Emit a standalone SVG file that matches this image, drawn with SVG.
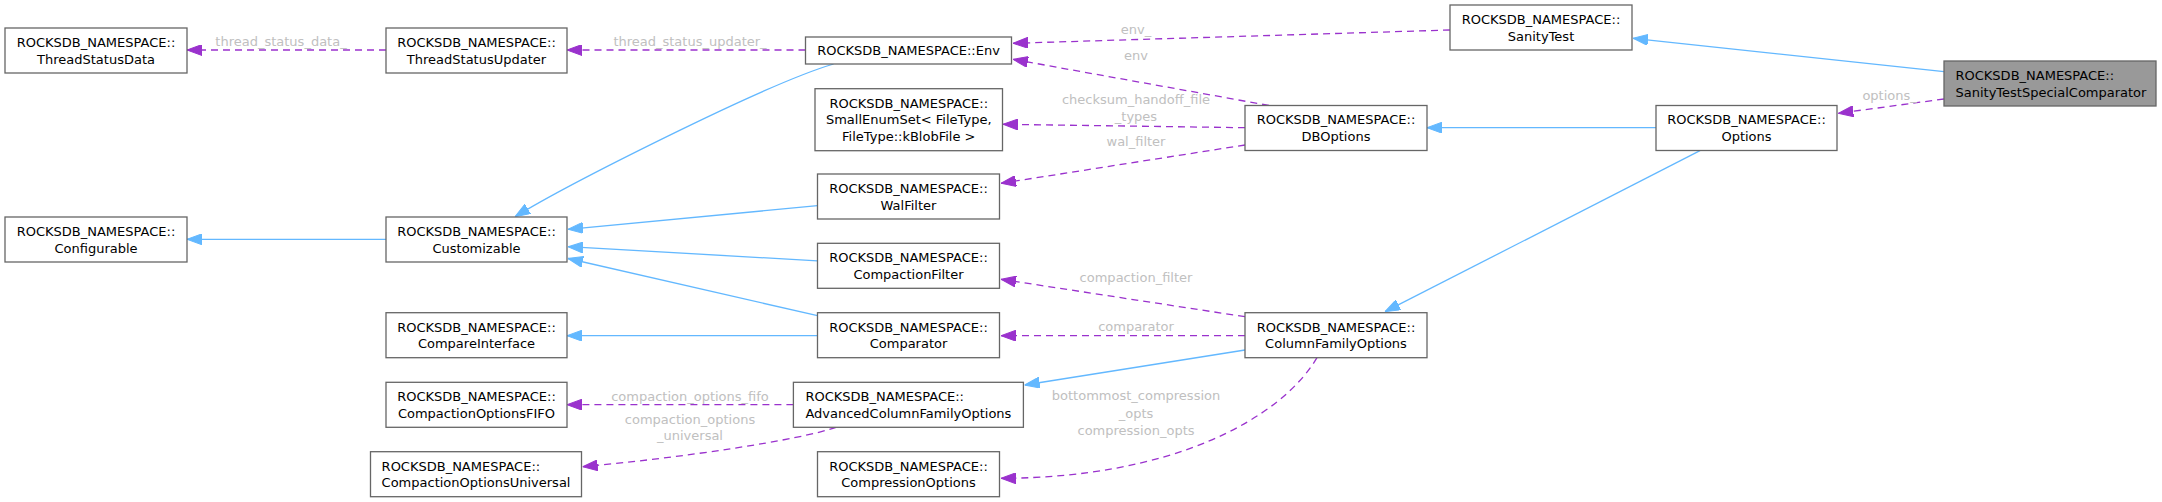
<svg xmlns="http://www.w3.org/2000/svg" width="2162" height="502" viewBox="0 0 2162 502">
<style>
.node rect{fill:#ffffff;stroke:#666666;stroke-width:1.3}
.node.hl rect{fill:#999999}
.node text{font-family:"DejaVu Sans",sans-serif;font-size:13px;fill:#000000;text-anchor:middle}
.node text.l{text-anchor:start}
.lbl{font-family:"DejaVu Sans",sans-serif;font-size:13px;fill:#c0c0c0;text-anchor:middle}
.inh{stroke:#63b8ff;fill:none;stroke-width:1.3;marker-end:url(#ab)}
.use{stroke:#9a32cd;fill:none;stroke-width:1.3;stroke-dasharray:7,5;marker-end:url(#ap)}
</style>
<defs>
<marker id="ab" viewBox="0 0 15 11" refX="15" refY="5.5" markerWidth="15" markerHeight="11" markerUnits="userSpaceOnUse" orient="auto">
<path d="M0,0 L15,5.5 L0,11 z" fill="#63b8ff" stroke="#63b8ff" stroke-width="1"/>
</marker>
<marker id="ap" viewBox="0 0 15 11" refX="15" refY="5.5" markerWidth="15" markerHeight="11" markerUnits="userSpaceOnUse" orient="auto">
<path d="M0,0 L15,5.5 L0,11 z" fill="#9a32cd" stroke="#9a32cd" stroke-width="1"/>
</marker>
</defs>
<rect x="0" y="0" width="2162" height="502" fill="#ffffff"/>
<g id="connectors">
<path class="inh" d="M1944,71.7 L1633,38.3"/>
<path class="inh" d="M1656,127.7 L1427,127.7"/>
<path class="inh" d="M1700,150.7 L1385,311.7"/>
<path class="inh" d="M1245,350 L1024.6,385"/>
<path class="inh" d="M833.6,64 C765,84 565,186 515,216.7"/>
<path class="inh" d="M817.5,205.7 L568,229.3"/>
<path class="inh" d="M817.5,260.8 L568,246.7"/>
<path class="inh" d="M817.5,315.7 L568,258.5"/>
<path class="inh" d="M817.5,335.7 L567,335.7"/>
<path class="inh" d="M386,239.3 L187,239.3"/>
<path class="use" d="M1944,99 L1838.3,113.3"/>
<text class="lbl" x="1889.6" y="99.7">options_</text>
<path class="use" d="M1450,30 L1013,43.3"/>
<text class="lbl" x="1136" y="34">env_</text>
<path class="use" d="M1269,105.5 L1013,59.3"/>
<text class="lbl" x="1136" y="60.4">env</text>
<path class="use" d="M1245,127.7 L1003,124.3"/>
<text class="lbl" x="1136" y="104">checksum_handoff_file</text>
<text class="lbl" x="1136" y="121.4">_types</text>
<path class="use" d="M1245,145 L1001,183.3"/>
<text class="lbl" x="1136" y="145.7">wal_filter</text>
<path class="use" d="M805.5,50 L567,50"/>
<text class="lbl" x="690" y="46.4">thread_status_updater_</text>
<path class="use" d="M386,50 L187,50"/>
<text class="lbl" x="281" y="46.4">thread_status_data_</text>
<path class="use" d="M1245,316.7 L1001,279.3"/>
<text class="lbl" x="1136" y="282">compaction_filter</text>
<path class="use" d="M1245,335.7 L1001,335.7"/>
<text class="lbl" x="1136" y="331.4">comparator</text>
<path class="use" d="M1317,357.7 C1280,420 1170,478 1001,478.3"/>
<text class="lbl" x="1136" y="400.4">bottommost_compression</text>
<text class="lbl" x="1136" y="417.7">_opts</text>
<text class="lbl" x="1136" y="434.7">compression_opts</text>
<path class="use" d="M793.4,404.7 L567,404.7"/>
<text class="lbl" x="690" y="401.4">compaction_options_fifo</text>
<path class="use" d="M836,427.3 C800,440 680,458 582.7,466.7"/>
<text class="lbl" x="690" y="423.7">compaction_options</text>
<text class="lbl" x="690" y="440.4">_universal</text>
</g>
<g id="n_stsc" class="node hl"><rect x="1944" y="61" width="212" height="45"/><text class="l" x="1955.5" y="79.8">ROCKSDB_NAMESPACE::</text><text class="l" x="1955.5" y="96.5">SanityTestSpecialComparator</text></g>
<g id="n_sanitytest" class="node"><rect x="1450" y="5" width="182" height="45"/><text x="1541" y="23.8">ROCKSDB_NAMESPACE::</text><text x="1541" y="40.5">SanityTest</text></g>
<g id="n_options" class="node"><rect x="1656" y="105.5" width="181" height="45"/><text x="1746.5" y="124.3">ROCKSDB_NAMESPACE::</text><text x="1746.5" y="141">Options</text></g>
<g id="n_dboptions" class="node"><rect x="1245" y="105.5" width="182" height="45"/><text x="1336" y="124.3">ROCKSDB_NAMESPACE::</text><text x="1336" y="141">DBOptions</text></g>
<g id="n_cfo" class="node"><rect x="1245" y="312.7" width="182" height="45"/><text x="1336" y="331.5">ROCKSDB_NAMESPACE::</text><text x="1336" y="348.2">ColumnFamilyOptions</text></g>
<g id="n_env" class="node"><rect x="805.5" y="37" width="206" height="27"/><text x="908.5" y="55">ROCKSDB_NAMESPACE::Env</text></g>
<g id="n_smallenumset" class="node"><rect x="815" y="88.7" width="187.5" height="62"/><text x="908.75" y="107.7">ROCKSDB_NAMESPACE::</text><text x="908.75" y="124.4">SmallEnumSet&lt; FileType,</text><text x="908.75" y="141.1">FileType::kBlobFile &gt;</text></g>
<g id="n_walfilter" class="node"><rect x="817.5" y="174" width="182" height="45"/><text x="908.5" y="192.8">ROCKSDB_NAMESPACE::</text><text x="908.5" y="209.5">WalFilter</text></g>
<g id="n_compactionfilter" class="node"><rect x="817.5" y="243.3" width="182" height="45"/><text x="908.5" y="262.1">ROCKSDB_NAMESPACE::</text><text x="908.5" y="278.8">CompactionFilter</text></g>
<g id="n_comparator" class="node"><rect x="817.5" y="312.7" width="182" height="45"/><text x="908.5" y="331.5">ROCKSDB_NAMESPACE::</text><text x="908.5" y="348.2">Comparator</text></g>
<g id="n_advcfo" class="node"><rect x="793.4" y="382.3" width="230" height="45"/><text class="l" x="805.4" y="401.1">ROCKSDB_NAMESPACE::</text><text class="l" x="805.4" y="417.8">AdvancedColumnFamilyOptions</text></g>
<g id="n_compressionoptions" class="node"><rect x="817.5" y="451.7" width="182" height="45"/><text x="908.5" y="470.5">ROCKSDB_NAMESPACE::</text><text x="908.5" y="487.2">CompressionOptions</text></g>
<g id="n_tsu" class="node"><rect x="386" y="28" width="181" height="45"/><text x="476.5" y="46.8">ROCKSDB_NAMESPACE::</text><text x="476.5" y="63.5">ThreadStatusUpdater</text></g>
<g id="n_customizable" class="node"><rect x="386" y="217" width="181" height="45"/><text x="476.5" y="235.8">ROCKSDB_NAMESPACE::</text><text x="476.5" y="252.5">Customizable</text></g>
<g id="n_compareinterface" class="node"><rect x="386" y="312.7" width="181" height="45"/><text x="476.5" y="331.5">ROCKSDB_NAMESPACE::</text><text x="476.5" y="348.2">CompareInterface</text></g>
<g id="n_fifo" class="node"><rect x="386" y="382.3" width="181" height="45"/><text x="476.5" y="401.1">ROCKSDB_NAMESPACE::</text><text x="476.5" y="417.8">CompactionOptionsFIFO</text></g>
<g id="n_universal" class="node"><rect x="370.5" y="451.7" width="211" height="45"/><text class="l" x="381.6" y="470.5">ROCKSDB_NAMESPACE::</text><text class="l" x="381.6" y="487.2">CompactionOptionsUniversal</text></g>
<g id="n_tsd" class="node"><rect x="5" y="28" width="182" height="45"/><text x="96" y="46.8">ROCKSDB_NAMESPACE::</text><text x="96" y="63.5">ThreadStatusData</text></g>
<g id="n_configurable" class="node"><rect x="5" y="217" width="182" height="45"/><text x="96" y="235.8">ROCKSDB_NAMESPACE::</text><text x="96" y="252.5">Configurable</text></g>
</svg>
